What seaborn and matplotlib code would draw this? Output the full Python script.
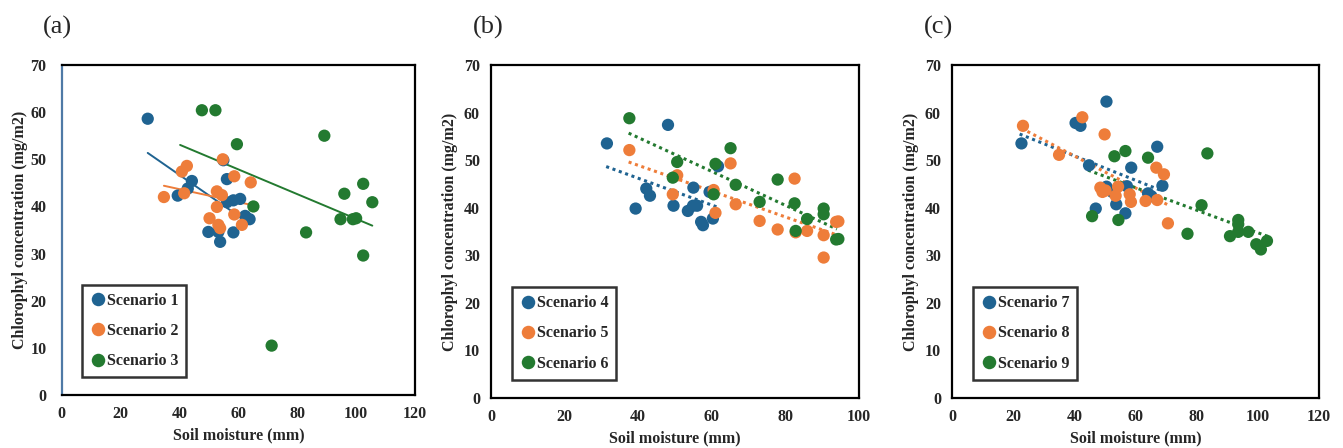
import numpy as np
import pandas as pd
import seaborn as sns
import matplotlib.pyplot as plt

# %% Data (soil moisture mm, chlorophyl mg/m2)
s1_x = [29.2, 39.4, 42.8, 44.2, 49.8, 53.2, 53.8, 54.9, 56.1, 56.1, 58.3, 58.3, 60.6, 62.3, 63.8]
s1_y = [58.6, 42.3, 43.8, 45.4, 34.6, 34.6, 32.5, 49.8, 45.8, 40.9, 41.3, 34.5, 41.6, 38.0, 37.3]
s2_x = [34.7, 40.8, 42.5, 41.6, 54.7, 50.2, 52.7, 54.4, 52.7, 53.2, 53.8, 58.6, 58.6, 61.2, 64.2]
s2_y = [42.0, 47.4, 48.6, 42.8, 50.0, 37.5, 43.2, 42.4, 39.9, 36.1, 35.4, 46.4, 38.3, 36.1, 45.1]
s3_x = [47.6, 52.2, 59.5, 65.1, 71.3, 83.0, 89.2, 94.7, 96.0, 98.9, 100.0, 102.4, 102.4, 105.5]
s3_y = [60.4, 60.4, 53.2, 40.0, 10.5, 34.5, 55.0, 37.3, 42.7, 37.3, 37.5, 44.8, 29.6, 40.9]

s4_x = [31.5, 39.3, 42.2, 43.2, 48.1, 49.6, 53.5, 55.0, 54.9, 56.0, 57.1, 57.6, 59.4, 60.3, 61.7]
s4_y = [53.5, 39.8, 44.0, 42.5, 57.4, 40.4, 39.3, 44.2, 40.4, 40.4, 37.0, 36.3, 43.3, 37.7, 48.7]
s5_x = [37.6, 49.4, 50.6, 60.5, 61.0, 65.1, 66.5, 73.0, 77.9, 82.5, 82.8, 85.9, 90.4, 90.4, 93.8, 94.4]
s5_y = [52.1, 42.8, 46.8, 43.7, 38.9, 49.3, 40.7, 37.2, 35.4, 46.1, 34.8, 35.1, 34.2, 29.5, 37.0, 37.1]
s6_x = [37.6, 49.4, 50.6, 60.5, 61.0, 65.1, 66.5, 73.0, 77.9, 82.5, 82.8, 85.9, 90.4, 90.4, 93.8, 94.4]
s6_y = [58.8, 46.3, 49.6, 42.8, 49.2, 52.5, 44.8, 41.2, 45.9, 40.9, 35.1, 37.6, 39.8, 38.6, 33.3, 33.4]

s7_x = [22.7, 40.4, 42.0, 44.8, 47.0, 50.5, 50.5, 52.4, 53.7, 56.7, 57.2, 58.6, 64.1, 65.2, 67.1, 68.8]
s7_y = [53.5, 57.8, 57.2, 48.9, 39.8, 62.3, 44.4, 43.3, 40.7, 38.8, 44.5, 48.4, 43.0, 42.4, 52.8, 44.6]
s8_x = [23.2, 35.0, 42.6, 49.9, 48.5, 49.2, 50.2, 53.5, 54.3, 58.1, 58.5, 63.3, 66.8, 67.1, 69.3, 70.6]
s8_y = [57.2, 51.1, 59.0, 55.4, 44.2, 43.3, 43.6, 42.5, 44.4, 42.8, 41.2, 41.4, 48.4, 41.6, 47.0, 36.7]
s9_x = [45.8, 53.1, 54.4, 56.7, 64.1, 77.0, 81.6, 83.5, 90.9, 93.6, 93.6, 93.6, 96.9, 99.5, 101.0, 103.0]
s9_y = [38.2, 50.8, 37.4, 51.9, 50.5, 34.5, 40.5, 51.4, 34.0, 37.4, 36.5, 34.9, 34.9, 32.3, 31.2, 33.0]

# x span of each drawn trend line
trend_a = [(29.2, 63.4), (34.7, 63.8), (40.2, 105.5)]
trend_b = [(31.3, 61.5), (37.4, 93.8), (37.4, 94.0)]
trend_c = [(22.1, 69.0), (22.7, 70.6), (44.5, 103.3)]

colors = ['#1F6391', '#EE7D3A', '#237A30']

# %% Plot helpers
def make_df(series, names):
    frames = []
    for (x, y), name in zip(series, names):
        frames.append(pd.DataFrame({'moisture': x, 'chl': y, 'scenario': name}))
    return pd.concat(frames, ignore_index=True)

def trend_df(series, names, spans):
    frames = []
    for (x, y), name, span in zip(series, names, spans):
        slope, icpt = np.polyfit(x, y, 1)
        xs = np.array(span)
        frames.append(pd.DataFrame({'moisture': xs, 'chl': slope * xs + icpt, 'scenario': name}))
    return pd.concat(frames, ignore_index=True)

def draw_panel(ax, series, names, spans, xmax, dotted, tag, tag_x, ylabpad=4):
    df = make_df(series, names)
    df_trend = trend_df(series, names, spans)
    pal = dict(zip(names, colors))
    ls = (0, (1, 1.2)) if dotted else '-'
    for name in names:
        sns.lineplot(x='moisture', y='chl', data=df_trend[df_trend.scenario == name],
                     color=pal[name], lw=2.2 if dotted else 1.4, linestyle=ls, ax=ax,
                     legend=False)
    sns.scatterplot(x='moisture', y='chl', hue='scenario', palette=pal, data=df,
                    s=78, edgecolor='none', ax=ax, zorder=3)
    ax.set_xlim(0, xmax)
    ax.set_ylim(0, 70)
    ax.set_xticks(range(0, xmax + 1, 20))
    ax.set_yticks(range(0, 71, 10))
    ax.set_xlabel('Soil moisture (mm)', fontsize=11.5, fontweight='bold', labelpad=4)
    ax.set_ylabel('Chlorophyl concentration (mg/m2)', fontsize=11.5, fontweight='bold',
                  labelpad=ylabpad)
    ax.tick_params(labelsize=11.5, length=3, width=1.5, direction='out', pad=5)
    for sp in ax.spines.values():
        sp.set_visible(True)
        sp.set_color('black')
        sp.set_linewidth(1.6)
    leg = ax.legend(loc='lower left', bbox_to_anchor=(0.035, 0.03), frameon=True,
                    fancybox=False, handletextpad=0.05, handlelength=1.0, markerscale=1.1,
                    borderpad=0.5, labelspacing=0.9, prop={'weight': 'bold', 'size': 11.5})
    leg.get_frame().set_edgecolor('black')
    leg.get_frame().set_linewidth(1.8)
    ax.text(tag_x, 1.114, tag, transform=ax.transAxes, fontsize=19, fontweight='normal',
            ha='center', va='center')


# %% Figure
sns.set_style('white')
plt.rcParams['font.family'] = ['Liberation Serif', 'DejaVu Serif']
plt.rcParams['font.weight'] = 'bold'

fig = plt.figure(figsize=(13.43, 4.48), dpi=100)
ax_a = fig.add_axes([0.046, 0.118, 0.263, 0.737])
ax_b = fig.add_axes([0.3656, 0.112, 0.274, 0.743])
ax_c = fig.add_axes([0.7089, 0.112, 0.2732, 0.743])

draw_panel(ax_a, [(s1_x, s1_y), (s2_x, s2_y), (s3_x, s3_y)],
           ['Scenario 1', 'Scenario 2', 'Scenario 3'], trend_a, 120, False, '(a)', -0.012,
           ylabpad=2)
draw_panel(ax_b, [(s4_x, s4_y), (s5_x, s5_y), (s6_x, s6_y)],
           ['Scenario 4', 'Scenario 5', 'Scenario 6'], trend_b, 100, True, '(b)', -0.008)
draw_panel(ax_c, [(s7_x, s7_y), (s8_x, s8_y), (s9_x, s9_y)],
           ['Scenario 7', 'Scenario 8', 'Scenario 9'], trend_c, 120, True, '(c)', -0.038)

# panel (a) has no tick marks and a blue left axis
ax_a.tick_params(axis='x', length=0, pad=8)
ax_a.tick_params(axis='y', length=0, pad=11)
ax_a.spines['left'].set_color('#4F7AA6')

fig.savefig('out.png', dpi=100)
